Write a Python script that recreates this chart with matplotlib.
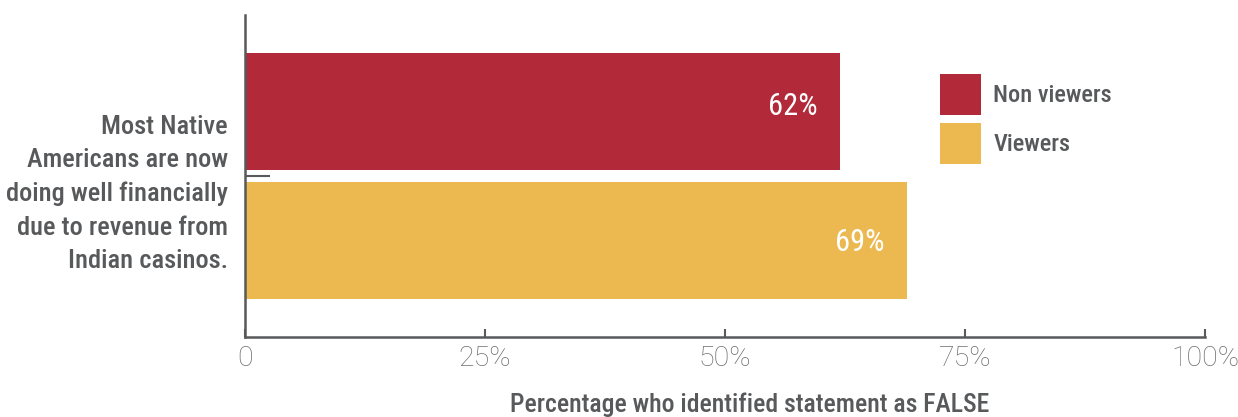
import matplotlib.pyplot as plt
import matplotlib.transforms as mtransforms

# Survey result: share who identified the statement as false
statement = "Most Native\nAmericans are now\ndoing well financially\ndue to revenue from\nIndian casinos."
groups = ["Non viewers", "Viewers"]
values = [62, 69]
colors = ["#B22A3A", "#ECB951"]
xticks = [0, 25, 50, 75, 100]
xtick_labels = ["0", "25%", "50%", "75%", "100%"]

COND = ["Roboto Condensed", "Archivo Narrow", "DejaVu Sans"]
LIGHT = ["Roboto", "DejaVu Sans"]
GREY = "#58595B"

fig = plt.figure(figsize=(12.38, 4.17), dpi=100)
ax = fig.add_axes([245 / 1238, 80 / 417, 960 / 1238, 322 / 417])

offsets = [0.5, -0.5]
label_shift = [0.04, -0.015]
for g, v, c, off, sh in zip(groups, values, colors, offsets, label_shift):
    ax.barh(off, v, height=0.907, color=c, label=g)
    ax.text(v - 2.4, off + sh, f"{v}%", ha="right", va="center",
            color="white", fontsize=22, family=COND)

ax.set_xlim(0, 100)
ax.set_ylim(-1.248, 1.248)
ax.set_xticks(xticks)
ax.set_xticklabels(xtick_labels, fontsize=20.5, color="#6D6E70", family=LIGHT, fontweight="light")
ax.set_yticks([0])
ax.set_yticklabels([""])

# category text sits a little below its tick
trans = mtransforms.blended_transform_factory(ax.transAxes, ax.transData)
ax.text(-0.0177, -0.14, statement, transform=trans, ha="right", va="center",
        fontsize=19, fontweight="medium", color=GREY, family=COND, linespacing=1.49)

ax.tick_params(axis="x", direction="in", length=6, width=1.5, color=GREY, pad=6)
ax.tick_params(axis="y", direction="in", length=18, width=1.5, color=GREY)

for side in ["top", "right"]:
    ax.spines[side].set_visible(False)
for side in ["left", "bottom"]:
    ax.spines[side].set_color(GREY)
    ax.spines[side].set_linewidth(1.8)

ax.set_xlabel("Percentage who identified statement as FALSE", fontsize=18.5,
              fontweight="medium", color=GREY, family=COND, va="center")
ax.xaxis.set_label_coords(0.526, -0.211)

leg = ax.legend(loc="upper left", bbox_to_anchor=(0.724, 0.817), frameon=False,
                prop={"family": COND, "size": 17.5, "weight": "medium"},
                handlelength=1.69, handleheight=2.22, labelspacing=0.33,
                handletextpad=0.5, borderaxespad=0, borderpad=0)
for t in leg.get_texts():
    t.set_color(GREY)

fig.savefig("out.png", dpi=100)
